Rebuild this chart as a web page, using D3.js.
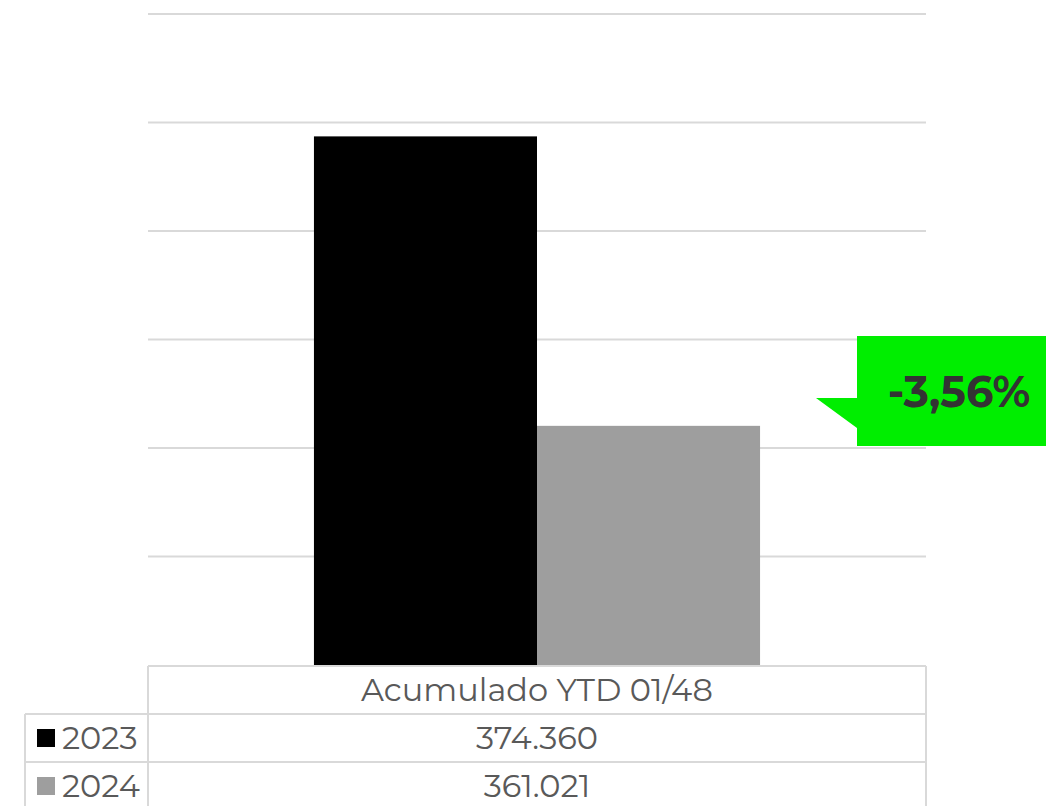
<!DOCTYPE html>
<html>
<head>
<meta charset="utf-8">
<script src="https://cdn.jsdelivr.net/npm/d3@7"></script>
<style>
  body { margin: 0; background: #fff; }
  svg { display: block; font-family: Montserrat, "Open Sans", "Noto Sans", sans-serif; }
</style>
</head>
<body>
<div id="chart"></div>
<script>
// Data
const categories = ["Acumulado YTD 01/48"];
const seriesNames = ["2023", "2024"];
const seriesValues = [374360, 361021];
const seriesColors = ["#000000", "#9e9e9e"];
const valueLabels = ["374.360", "361.021"];
const changeLabel = "-3,56%";
const yTicks = [350000, 355000, 360000, 365000, 370000, 375000, 380000];

const width = 1046, height = 806;
const plot = { left: 148, right: 926, top: 14, bottom: 665 };

const svg = d3.select("#chart")
  .append("svg")
  .attr("width", width)
  .attr("height", height);

const y = d3.scaleLinear()
  .domain([350000, 380000])
  .range([plot.bottom, plot.top]);

const x0 = d3.scaleBand()
  .domain(categories)
  .range([plot.left, plot.right])
  .paddingInner(0)
  .paddingOuter(0.372);

const x1 = d3.scaleBand()
  .domain(seriesNames)
  .range([0, x0.bandwidth()])
  .padding(0);

// Gridlines
svg.append("g")
  .selectAll("line")
  .data(yTicks.slice(1))
  .join("line")
  .attr("x1", plot.left)
  .attr("x2", plot.right)
  .attr("y1", d => y(d))
  .attr("y2", d => y(d))
  .attr("stroke", "#d9d9d9")
  .attr("stroke-width", 2);

// Bars
const rows = seriesNames.map((s, i) => ({ name: s, value: seriesValues[i], color: seriesColors[i] }));
svg.append("g")
  .selectAll("rect")
  .data(rows)
  .join("rect")
  .attr("x", d => x0(categories[0]) + x1(d.name))
  .attr("y", d => y(d.value))
  .attr("width", x1.bandwidth())
  .attr("height", d => plot.bottom - y(d.value))
  .attr("fill", d => d.color);

// Data table
const rowH = 48;
const tableTop = plot.bottom + 1;
const leftCol = 25;
const grid = svg.append("g")
  .attr("stroke", "#d9d9d9")
  .attr("stroke-width", 2)
  .attr("fill", "none");

grid.append("line").attr("x1", plot.left).attr("x2", plot.right).attr("y1", tableTop).attr("y2", tableTop);
[1, 2].forEach(i => {
  grid.append("line").attr("x1", leftCol).attr("x2", plot.right)
    .attr("y1", tableTop + rowH * i).attr("y2", tableTop + rowH * i);
});
grid.append("line").attr("x1", plot.left).attr("x2", plot.left).attr("y1", tableTop).attr("y2", height);
grid.append("line").attr("x1", plot.right).attr("x2", plot.right).attr("y1", tableTop).attr("y2", height);
grid.append("line").attr("x1", leftCol).attr("x2", leftCol).attr("y1", tableTop + rowH).attr("y2", height);

const cx = x0(categories[0]) + x0.bandwidth() / 2;

svg.append("text")
  .attr("x", cx)
  .attr("y", tableTop + rowH / 2)
  .attr("dy", "0.35em")
  .attr("text-anchor", "middle")
  .attr("font-size", 32)
  .attr("fill", "#595959")
  .text(categories[0]);

rows.forEach((d, i) => {
  const ry = tableTop + rowH * (i + 1) + rowH / 2;
  svg.append("rect")
    .attr("x", 37).attr("y", ry - 9)
    .attr("width", 18).attr("height", 18)
    .attr("fill", d.color);
  svg.append("text")
    .attr("x", 62).attr("y", ry)
    .attr("dy", "0.35em")
    .attr("font-size", 32)
    .attr("fill", "#595959")
    .text(d.name);
  svg.append("text")
    .attr("x", cx).attr("y", ry)
    .attr("dy", "0.35em")
    .attr("text-anchor", "middle")
    .attr("font-size", 32)
    .attr("fill", "#595959")
    .text(valueLabels[i]);
});

// Change callout
const callout = svg.append("g");
callout.append("path")
  .attr("d", "M857,336 H1046 V446 H857 V428 L816,398 H857 Z")
  .attr("fill", "#00ee00");
callout.append("text")
  .attr("x", 959)
  .attr("y", 392)
  .attr("dy", "0.35em")
  .attr("text-anchor", "middle")
  .attr("font-size", 43)
  .attr("font-weight", "bold")
  .attr("fill", "#333333")
  .text(changeLabel);
</script>
</body>
</html>
